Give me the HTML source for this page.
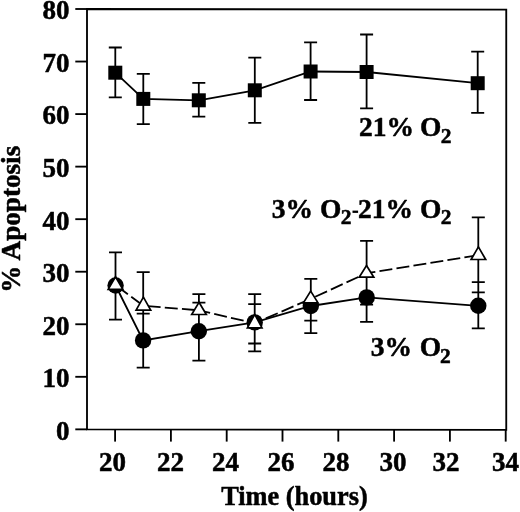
<!DOCTYPE html>
<html><head><meta charset="utf-8"><style>
html,body{margin:0;padding:0;background:#fff;}
svg{display:block;filter:blur(0.35px);}
.t{font-family:"Liberation Serif",serif;font-weight:bold;font-size:27px;fill:#000;stroke:#000;stroke-width:0.5px;stroke-linejoin:round;}
.a{font-size:27.5px;}
.s{font-size:21.5px;}
</style></head><body>
<svg width="520" height="512" viewBox="0 0 520 512">
<path d="M87 9L506.25 9.6V429.9L87 429.35Z" fill="none" stroke="#000" stroke-width="1.85" stroke-linejoin="miter"/>
<path d="M75.3 429.35H87" stroke="#000" stroke-width="1.85"/>
<path d="M75.3 376.81H87" stroke="#000" stroke-width="1.85"/>
<path d="M75.3 324.26H87" stroke="#000" stroke-width="1.85"/>
<path d="M75.3 271.72H87" stroke="#000" stroke-width="1.85"/>
<path d="M75.3 219.18H87" stroke="#000" stroke-width="1.85"/>
<path d="M75.3 166.63H87" stroke="#000" stroke-width="1.85"/>
<path d="M75.3 114.09H87" stroke="#000" stroke-width="1.85"/>
<path d="M75.3 61.54H87" stroke="#000" stroke-width="1.85"/>
<path d="M75.3 9H87" stroke="#000" stroke-width="1.85"/>
<path d="M115.1 429.39V441.6" stroke="#000" stroke-width="1.85"/>
<path d="M170.9 429.46V441.6" stroke="#000" stroke-width="1.85"/>
<path d="M226.7 429.53V441.6" stroke="#000" stroke-width="1.85"/>
<path d="M282.5 429.61V441.6" stroke="#000" stroke-width="1.85"/>
<path d="M338.3 429.68V441.6" stroke="#000" stroke-width="1.85"/>
<path d="M394.1 429.75V441.6" stroke="#000" stroke-width="1.85"/>
<path d="M449.9 429.83V441.6" stroke="#000" stroke-width="1.85"/>
<path d="M505.7 429.9V441.6" stroke="#000" stroke-width="1.85"/>
<path d="M115.3 47.5V97.3M108.8 47.5h13M108.8 97.3h13" stroke="#000" stroke-width="1.8" fill="none"/>
<path d="M143.3 73.9V124.2M136.8 73.9h13M136.8 124.2h13" stroke="#000" stroke-width="1.8" fill="none"/>
<path d="M198.8 82.8V116.7M192.3 82.8h13M192.3 116.7h13" stroke="#000" stroke-width="1.8" fill="none"/>
<path d="M254.8 57.7V122.9M248.3 57.7h13M248.3 122.9h13" stroke="#000" stroke-width="1.8" fill="none"/>
<path d="M310.6 42.4V100M304.1 42.4h13M304.1 100h13" stroke="#000" stroke-width="1.8" fill="none"/>
<path d="M366.6 34.5V108.3M360.1 34.5h13M360.1 108.3h13" stroke="#000" stroke-width="1.8" fill="none"/>
<path d="M477.7 51.7V112.9M471.2 51.7h13M471.2 112.9h13" stroke="#000" stroke-width="1.8" fill="none"/>
<polyline points="115.3,72.7 143.3,98.9 198.8,100.3 254.8,90.3 310.6,71.5 366.6,72 477.7,83.2" fill="none" stroke="#000" stroke-width="1.8"/>
<rect x="108.3" y="65.7" width="14" height="14" fill="#000"/>
<rect x="136.3" y="91.9" width="14" height="14" fill="#000"/>
<rect x="191.8" y="93.3" width="14" height="14" fill="#000"/>
<rect x="247.8" y="83.3" width="14" height="14" fill="#000"/>
<rect x="303.6" y="64.5" width="14" height="14" fill="#000"/>
<rect x="359.6" y="65" width="14" height="14" fill="#000"/>
<rect x="470.7" y="76.2" width="14" height="14" fill="#000"/>
<path d="M115.5 252.3V319.6M109 252.3h13M109 319.6h13" stroke="#000" stroke-width="1.8" fill="none"/>
<path d="M143.2 272.1V367.6M136.7 272.1h13M136.7 313.6h13M136.7 367.6h13" stroke="#000" stroke-width="1.8" fill="none"/>
<path d="M198.9 294.2V360.6M192.4 294.2h13M192.4 302.7h13M192.4 360.6h13" stroke="#000" stroke-width="1.8" fill="none"/>
<path d="M254.7 294.2V351.3M248.2 294.2h13M248.2 304.2h13M248.2 343.5h13M248.2 351.3h13" stroke="#000" stroke-width="1.8" fill="none"/>
<path d="M310.8 278.9V333.1M304.3 278.9h13M304.3 320.7h13M304.3 333.1h13" stroke="#000" stroke-width="1.8" fill="none"/>
<path d="M366.6 240.8V321.8M360.1 240.8h13M360.1 304.7h13M360.1 321.8h13" stroke="#000" stroke-width="1.8" fill="none"/>
<path d="M478.3 217.4V328.4M471.8 217.4h13M471.8 282.2h13M471.8 292.4h13M471.8 328.4h13" stroke="#000" stroke-width="1.8" fill="none"/>
<polyline points="115.6,285.5 143.1,340.4 198.8,331.2 254.7,322.4 310.8,306 366.7,297.4 478.3,305.8" fill="none" stroke="#000" stroke-width="1.8"/>
<path d="M115.5 285.1L143.4 305.77" fill="none" stroke="#000" stroke-width="1.8" stroke-dasharray="13 4.2" stroke-dashoffset="14.8"/>
<path d="M143.4 305.77L199 310.33" fill="none" stroke="#000" stroke-width="1.8" stroke-dasharray="13 4.2" stroke-dashoffset="12.95"/>
<path d="M199 310.33L254.7 323.27" fill="none" stroke="#000" stroke-width="1.8" stroke-dasharray="13 4.2" stroke-dashoffset="1.6"/>
<path d="M254.7 323.27L310.7 298.87" fill="none" stroke="#000" stroke-width="1.8" stroke-dasharray="13 4.2" stroke-dashoffset="5.1"/>
<path d="M310.7 298.87L366.5 273.2" fill="none" stroke="#000" stroke-width="1.8" stroke-dasharray="13 4.2" stroke-dashoffset="12.2"/>
<path d="M366.5 273.2L478.4 255.2" fill="none" stroke="#000" stroke-width="1.8" stroke-dasharray="13 4.2" stroke-dashoffset="4.05"/>
<circle cx="115.6" cy="285.5" r="8.2" fill="#000"/>
<circle cx="143.1" cy="340.4" r="8.2" fill="#000"/>
<circle cx="198.8" cy="331.2" r="8.2" fill="#000"/>
<circle cx="254.7" cy="322.4" r="8.2" fill="#000"/>
<circle cx="310.8" cy="306" r="8.2" fill="#000"/>
<circle cx="366.7" cy="297.4" r="8.2" fill="#000"/>
<circle cx="478.3" cy="305.8" r="8.2" fill="#000"/>
<path d="M115.5 276.8L122.8 289.4H108.2Z" fill="#fff" stroke="#000" stroke-width="1.7" stroke-linejoin="miter"/>
<path d="M143.4 297.2L150.7 310.2H136.1Z" fill="#fff" stroke="#000" stroke-width="1.7" stroke-linejoin="miter"/>
<path d="M199 302.3L206.3 314.5H191.7Z" fill="#fff" stroke="#000" stroke-width="1.7" stroke-linejoin="miter"/>
<path d="M254.7 314.3L262 327.9H247.4Z" fill="#fff" stroke="#000" stroke-width="1.7" stroke-linejoin="miter"/>
<path d="M310.7 291.1L318 302.9H303.4Z" fill="#fff" stroke="#000" stroke-width="1.7" stroke-linejoin="miter"/>
<path d="M366.5 265.5L373.8 277.2H359.2Z" fill="#fff" stroke="#000" stroke-width="1.7" stroke-linejoin="miter"/>
<path d="M478.4 246.9L485.7 259.5H471.1Z" fill="#fff" stroke="#000" stroke-width="1.7" stroke-linejoin="miter"/>
<text x="69.5" y="439.75" text-anchor="end" class="t">0</text>
<text x="69.5" y="387.21" text-anchor="end" class="t">10</text>
<text x="69.5" y="334.66" text-anchor="end" class="t">20</text>
<text x="69.5" y="282.12" text-anchor="end" class="t">30</text>
<text x="69.5" y="229.58" text-anchor="end" class="t">40</text>
<text x="69.5" y="177.03" text-anchor="end" class="t">50</text>
<text x="69.5" y="124.49" text-anchor="end" class="t">60</text>
<text x="69.5" y="71.94" text-anchor="end" class="t">70</text>
<text x="69.5" y="19.4" text-anchor="end" class="t">80</text>
<text x="112.4" y="471.0" text-anchor="middle" class="t">20</text>
<text x="170.6" y="471.0" text-anchor="middle" class="t">22</text>
<text x="225.5" y="471.0" text-anchor="middle" class="t">24</text>
<text x="280.9" y="471.0" text-anchor="middle" class="t">26</text>
<text x="336.1" y="471.0" text-anchor="middle" class="t">28</text>
<text x="393.1" y="471.0" text-anchor="middle" class="t">30</text>
<text x="446" y="471.0" text-anchor="middle" class="t">32</text>
<text x="505.4" y="471.0" text-anchor="middle" class="t">34</text>
<text x="221.2" y="504.7" class="t" style="font-size:26.3px" textLength="146.5" lengthAdjust="spacingAndGlyphs">Time (hours)</text>
<text transform="translate(20,292.8) rotate(-90)" class="t" style="font-size:26.8px" textLength="147" lengthAdjust="spacingAndGlyphs">% Apoptosis</text>
<text x="358.95" y="136.2" class="t a">21%</text><text x="420.1" y="136.2" class="t a">O</text><text x="440.7" y="143.4" class="t s">2</text>
<text x="271.8" y="217.5" class="t a">3%</text><text x="319.9" y="217.5" class="t a">O</text><text x="340.8" y="223.7" class="t s">2</text>
<rect x="352.5" y="210.6" width="5.6" height="2.3" fill="#000"/>
<text x="358" y="217.6" class="t a">21%</text><text x="420" y="217.6" class="t a">O</text><text x="440.8" y="223.7" class="t s">2</text>
<text x="370.8" y="355.6" class="t a">3%</text><text x="419.8" y="355.6" class="t a">O</text><text x="439.9" y="363" class="t s">2</text>
</svg>
</body></html>
